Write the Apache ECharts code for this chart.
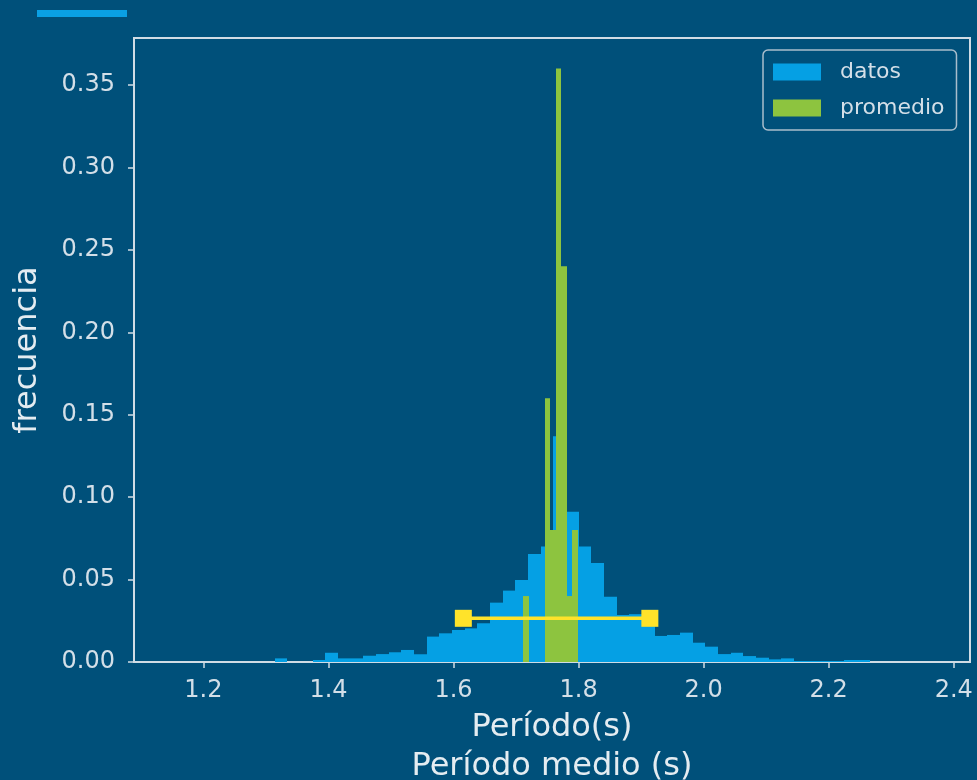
<!DOCTYPE html>
<html lang="es">
<head>
  <meta charset="utf-8">
  <title>Período medio - histograma</title>
  <script src="https://cdn.jsdelivr.net/npm/echarts@6.0.0/dist/echarts.min.js"></script>
  <style>
    html, body { margin: 0; padding: 0; background: #00507a; }
    #chart { width: 977px; height: 780px; }
  </style>
</head>
<body>
<div id="chart"></div>
<script>
  // histograma de los datos: 60 bins desde binStart con ancho binWidth
  var datosStart = 1.152;
  var datosWidth = 0.02025;
  var datosFreq = [
    0, 0, 0, 0, 0, 0, 0, 0, 0.0022, 0,
    0, 0.0012, 0.0056, 0.0022, 0.0022, 0.0038, 0.0048, 0.0059, 0.0073, 0.0047,
    0.0154, 0.0174, 0.0194, 0.0204, 0.0235, 0.036, 0.0433, 0.0497, 0.0655, 0.070,
    0.137, 0.0912, 0.070, 0.060, 0.0396, 0.0285, 0.029, 0.026, 0.0158, 0.0164,
    0.0178, 0.0117, 0.0093, 0.0048, 0.0056, 0.0036, 0.0026, 0.0016, 0.0022, 0.0006,
    0.0006, 0.0006, 0.0006, 0.0012, 0.0012, 0, 0, 0, 0, 0
  ];

  // histograma de los promedios: 10 bins
  var promStart = 1.7112;
  var promWidth = 0.00872;
  var promFreq = [0.04, 0, 0, 0, 0.16, 0.08, 0.36, 0.24, 0.04, 0.08];

  // media +/- desviación
  var errorBar = [[1.6157, 0.0265], [1.914, 0.0265]];

  var xTicks = [1.2, 1.4, 1.6, 1.8, 2.0, 2.2, 2.4];
  var yTicks = [0, 0.05, 0.10, 0.15, 0.20, 0.25, 0.30, 0.35];

  var fg = '#d3dfe8';
  var frame = '#d0dce5';

  function bins(start, width, freq) {
    return freq.map(function (f, i) {
      return [start + i * width, start + (i + 1) * width, f];
    });
  }

  // barra de histograma, bordes ajustados al pixel para evitar costuras
  function renderBar(params, api) {
    var p0 = api.coord([api.value(0), api.value(2)]);
    var p1 = api.coord([api.value(1), 0]);
    var x0 = Math.round(p0[0]), x1 = Math.round(p1[0]);
    return {
      type: 'rect',
      shape: { x: x0, y: p0[1], width: x1 - x0, height: p1[1] - p0[1] },
      style: { fill: api.visual('color') }
    };
  }

  var chart = echarts.init(document.getElementById('chart'));

  var option = {
    backgroundColor: '#00507a',
    animation: false,
    textStyle: { fontFamily: 'DejaVu Sans' },
    graphic: [
      { type: 'rect', shape: { x: 37, y: 10, width: 90, height: 7 }, style: { fill: '#0aa0e4' } }
    ],
    grid: {
      left: 134, right: 7, top: 38, bottom: 118,
      outerBoundsMode: 'none',
      containLabel: false,
      show: true, borderColor: frame, borderWidth: 2, backgroundColor: 'transparent'
    },
    legend: {
      data: ['datos', 'promedio'],
      orient: 'vertical',
      left: 763, top: 50,
      icon: 'rect',
      itemWidth: 48, itemHeight: 17, itemGap: 14,
      padding: [11, 12, 11, 10],
      borderColor: '#a9bdcc', borderWidth: 1.5, borderRadius: 5,
      textStyle: { color: fg, fontSize: 22, fontFamily: 'DejaVu Sans', padding: [0, 0, 0, 14], lineHeight: 17 }
    },
    xAxis: {
      type: 'value',
      min: 1.089, max: 2.426,
      name: 'Período(s)\nPeríodo medio (s)',
      nameLocation: 'middle',
      nameGap: 41,
      nameTextStyle: { color: '#e4ecf1', fontSize: 32, lineHeight: 39, fontFamily: 'DejaVu Sans' },
      axisLine: { show: true, lineStyle: { color: frame, width: 2 } },
      axisTick: { show: true, length: 6, lineStyle: { color: frame, width: 1.5 }, customValues: xTicks },
      axisLabel: {
        color: fg, fontSize: 24, margin: 17, customValues: xTicks,
        formatter: function (v) { return v.toFixed(1); }
      },
      splitLine: { show: false }
    },
    yAxis: {
      type: 'value',
      min: 0, max: 0.3785,
      name: 'frecuencia',
      nameLocation: 'middle',
      nameGap: 90,
      nameRotate: 90,
      nameTextStyle: { color: '#e4ecf1', fontSize: 32, fontFamily: 'DejaVu Sans' },
      axisLine: { show: true, lineStyle: { color: frame, width: 2 } },
      axisTick: { show: true, length: 6, lineStyle: { color: frame, width: 1.5 }, customValues: yTicks },
      axisLabel: {
        color: fg, fontSize: 24, margin: 19, customValues: yTicks,
        formatter: function (v) { return v.toFixed(2); }
      },
      splitLine: { show: false }
    },
    series: [
      {
        name: 'datos',
        type: 'custom',
        renderItem: renderBar,
        itemStyle: { color: '#05a0e4' },
        encode: { x: [0, 1], y: 2 },
        data: bins(datosStart, datosWidth, datosFreq),
        z: 2
      },
      {
        name: 'promedio',
        type: 'custom',
        renderItem: renderBar,
        itemStyle: { color: '#8dc43f' },
        encode: { x: [0, 1], y: 2 },
        data: bins(promStart, promWidth, promFreq),
        z: 3
      },
      {
        name: 'error',
        type: 'line',
        data: errorBar,
        symbol: 'rect',
        symbolSize: 17,
        lineStyle: { color: '#ffe32a', width: 3.5 },
        itemStyle: { color: '#ffe32a' },
        z: 5
      }
    ]
  };

  chart.setOption(option);
</script>
</body>
</html>
